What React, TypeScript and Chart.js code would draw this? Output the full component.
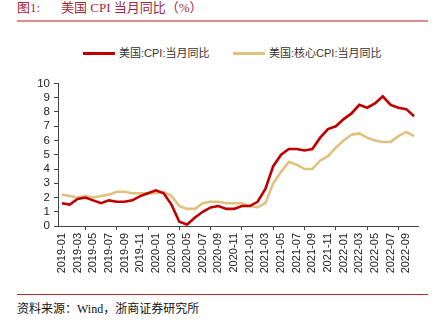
import React, { useEffect, useRef } from "react";
import { Chart, registerables } from "chart.js";

Chart.register(...registerables);

const months: string[] = [
  "2019-01","2019-02","2019-03","2019-04","2019-05","2019-06","2019-07","2019-08","2019-09","2019-10","2019-11","2019-12",
  "2020-01","2020-02","2020-03","2020-04","2020-05","2020-06","2020-07","2020-08","2020-09","2020-10","2020-11","2020-12",
  "2021-01","2021-02","2021-03","2021-04","2021-05","2021-06","2021-07","2021-08","2021-09","2021-10","2021-11","2021-12",
  "2022-01","2022-02","2022-03","2022-04","2022-05","2022-06","2022-07","2022-08","2022-09","2022-10",
];

const cpiYoY: number[] = [
  1.6, 1.5, 1.9, 2.0, 1.8, 1.6, 1.8, 1.7, 1.7, 1.8, 2.1, 2.3,
  2.5, 2.3, 1.5, 0.3, 0.1, 0.6, 1.0, 1.3, 1.4, 1.2, 1.2, 1.4,
  1.4, 1.7, 2.6, 4.2, 5.0, 5.4, 5.4, 5.3, 5.4, 6.2, 6.8, 7.0,
  7.5, 7.9, 8.5, 8.3, 8.6, 9.1, 8.5, 8.3, 8.2, 7.7,
];

const coreCpiYoY: number[] = [
  2.2, 2.1, 2.0, 2.1, 2.0, 2.1, 2.2, 2.4, 2.4, 2.3, 2.3, 2.3,
  2.3, 2.4, 2.1, 1.4, 1.2, 1.2, 1.6, 1.7, 1.7, 1.6, 1.6, 1.6,
  1.4, 1.3, 1.6, 3.0, 3.8, 4.5, 4.3, 4.0, 4.0, 4.6, 4.9, 5.5,
  6.0, 6.4, 6.5, 6.2, 6.0, 5.9, 5.9, 6.3, 6.6, 6.3,
];

const seriesNames: string[] = ["美国:CPI:当月同比", "美国:核心CPI:当月同比"];
const seriesColors: string[] = ["#c00000", "#dfc27f"];

const titleLabel = "图1:";
const titleText = "美国 CPI 当月同比（%）";
const sourceText = "资料来源：Wind，浙商证券研究所";

export default function App() {
  const canvasRef = useRef<HTMLCanvasElement | null>(null);

  useEffect(() => {
    if (!canvasRef.current) return;
    const chart = new Chart(canvasRef.current, {
      type: "line",
      data: {
        labels: months,
        datasets: [
          {
            label: seriesNames[0],
            data: cpiYoY,
            borderColor: seriesColors[0],
            backgroundColor: seriesColors[0],
            borderWidth: 2.6,
            pointRadius: 0,
            tension: 0,
            order: 1,
          },
          {
            label: seriesNames[1],
            data: coreCpiYoY,
            borderColor: seriesColors[1],
            backgroundColor: seriesColors[1],
            borderWidth: 2.6,
            pointRadius: 0,
            tension: 0,
            order: 2,
          },
        ],
      },
      options: {
        animation: false,
        responsive: false,
        maintainAspectRatio: false,
        layout: { padding: { top: 13.5, right: 22, left: 0, bottom: 0 } },
        plugins: {
          legend: { display: false },
          tooltip: { enabled: false },
        },
        scales: {
          x: {
            type: "category",
            offset: true,
            afterFit: (scale: any) => {
              scale.height = 59;
            },
            grid: {
              display: true,
              drawOnChartArea: false,
              drawTicks: true,
              tickLength: 4,
              color: "#444",
              offset: true,
            },
            border: { display: true, color: "#444", width: 1 },
            ticks: {
              autoSkip: true,
              autoSkipPadding: 0,
              maxTicksLimit: 23,
              minRotation: 90,
              maxRotation: 90,
              padding: 3,
              color: "#222",
              font: { family: "Liberation Sans, Arial, sans-serif", size: 11 },
            },
          },
          y: {
            min: 0,
            max: 10,
            afterFit: (scale: any) => {
              scale.width = 58;
            },
            grid: {
              display: true,
              drawOnChartArea: false,
              drawTicks: true,
              tickLength: 4,
              color: "#444",
            },
            border: { display: true, color: "#444", width: 1 },
            ticks: {
              stepSize: 1,
              autoSkip: false,
              padding: 4,
              color: "#222",
              font: { family: "Liberation Sans, Arial, sans-serif", size: 11.5 },
            },
          },
        },
      },
    });
    return () => chart.destroy();
  }, []);

  const serif = "'Liberation Serif', 'DejaVu Serif', 'Noto Sans CJK SC', serif";
  const sans = "'Liberation Sans', Arial, 'Noto Sans CJK SC', sans-serif";

  return (
    <div style={{ position: "fixed", left: 0, top: 0, width: 440, height: 325, background: "#fff", overflow: "hidden" }}>
      <div style={{ position: "absolute", left: 17, top: 0, fontFamily: serif, fontSize: 13, color: "#a0283c", lineHeight: "16px", whiteSpace: "nowrap" }}>
        {titleLabel}
      </div>
      <div style={{ position: "absolute", left: 61, top: 0, fontFamily: serif, fontSize: 13, color: "#a0283c", lineHeight: "16px", whiteSpace: "nowrap" }}>
        {titleText}
      </div>
      <div style={{ position: "absolute", left: 17, top: 20, width: 411, height: 2, background: "#e58a8a" }} />

      <div style={{ position: "absolute", left: 83, top: 52, width: 32, height: 3, background: seriesColors[0] }} />
      <div style={{ position: "absolute", left: 119, top: 46, fontFamily: sans, fontSize: 11, color: "#333", lineHeight: "14px", whiteSpace: "nowrap" }}>
        {seriesNames[0]}
      </div>
      <div style={{ position: "absolute", left: 233, top: 52, width: 32, height: 3, background: seriesColors[1] }} />
      <div style={{ position: "absolute", left: 269, top: 46, fontFamily: sans, fontSize: 11, color: "#333", lineHeight: "14px", whiteSpace: "nowrap" }}>
        {seriesNames[1]}
      </div>

      <canvas ref={canvasRef} width={440} height={215} style={{ position: "absolute", left: 0, top: 70, width: 440, height: 215 }} />

      <div style={{ position: "absolute", left: 17, top: 294, width: 411, height: 1, background: "#c0282c" }} />
      <div style={{ position: "absolute", left: 17, top: 302, fontFamily: serif, fontSize: 12, color: "#111", lineHeight: "15px", whiteSpace: "nowrap" }}>
        {sourceText}
      </div>
    </div>
  );
}
